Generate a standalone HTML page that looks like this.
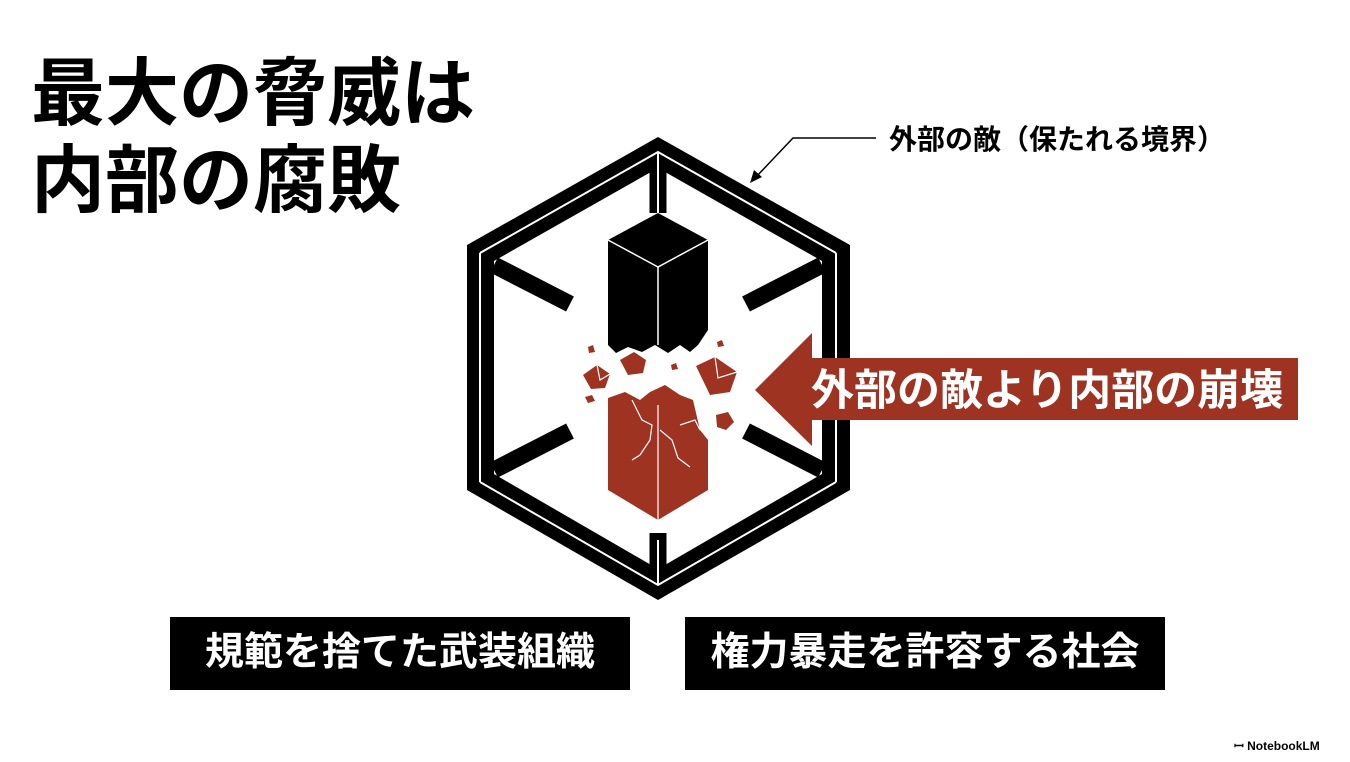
<!DOCTYPE html>
<html><head><meta charset="utf-8"><style>
body{margin:0;width:1350px;height:762px;background:#fff;overflow:hidden;position:relative;font-family:"Liberation Sans","Noto Sans CJK JP",sans-serif}
.t{position:absolute;left:31px;top:50px;font-size:74px;font-weight:700;line-height:87px;color:#000;white-space:nowrap}
.box{position:absolute;background:#000;color:#fff;font-weight:700;font-size:39px;line-height:72px;text-align:center;top:617px;height:73px}
.lbl{position:absolute;left:889px;top:118px;font-size:28px;font-weight:700;white-space:nowrap}
.nb{position:absolute;left:1234px;top:737px;font-size:12px;font-weight:700}
</style></head><body>
<div class="t">最大の脅威は<br>内部の腐敗</div>
<div class="lbl">外部の敵（保たれる境界）</div>
<svg width="1350" height="762" style="position:absolute;left:0;top:0">
<polyline points="876,138 793,138 756,177" fill="none" stroke="#000" stroke-width="1.5"/>
<polygon points="750,183 754,170 762,177" fill="#000"/>
<!-- hex frame -->
<polygon points="658,137 850,245 850,490 658,600 467,490 467,245" fill="#000"/>
<polygon points="658,168 822,261 822,474 658,569 494,474 494,261" fill="#fff"/>
<g fill="none" stroke="#000" stroke-width="17" stroke-linecap="butt">
<line x1="494" y1="265" x2="570" y2="304"/>
<line x1="822" y1="265" x2="746" y2="304"/>
<line x1="494" y1="470" x2="570" y2="431"/>
<line x1="822" y1="470" x2="746" y2="431"/>
<line x1="658" y1="160" x2="658" y2="213"/>
<line x1="658" y1="575" x2="658" y2="533"/>
</g>
<g fill="none" stroke="#fff" stroke-width="2">
<polyline points="480,253 658,152 836,253"/>
<polyline points="480,253 480,482"/>
<polyline points="836,253 836,482"/>
<polyline points="480,482 658,585 836,482"/>
<line x1="658" y1="152" x2="658" y2="213"/>
<line x1="658" y1="585" x2="658" y2="540"/>
</g>
<!-- black column -->
<polygon points="658,213 708,240 708,330 698,345 690,352 680,345 668,353 655,345 642,352 628,347 616,353 608,345 608,240" fill="#000"/>
<polyline points="608,240 658,267 708,240" fill="none" stroke="#fff" stroke-width="1.5"/>
<line x1="658" y1="267" x2="658" y2="345" stroke="#fff" stroke-width="1.5"/>
<!-- red column -->
<g fill="#9e3322">
<polygon points="608,398 625,392 640,400 650,392 665,385 680,395 693,400 700,430 708,440 708,490 658,520 608,490"/>
<polygon points="583,375 597,365 610,374 605,388 591,389"/>
<polygon points="620,360 634,352 646,360 643,373 628,375"/>
<polygon points="696,366 715,357 737,372 730,392 710,395"/>
<polygon points="585,397 592,395 595,401 588,403"/>
<polygon points="588,347 593,345 595,352 589,353"/>
<polygon points="716,415 728,412 734,422 726,430 717,427"/>
<polygon points="671,365 676,363 678,369 672,370"/>
<polygon points="717,342 722,340 724,346 718,347"/>
</g>
<g fill="none" stroke="#fff" stroke-width="1.2">
<line x1="658" y1="405" x2="658" y2="520"/>
<polyline points="632,400 642,420 652,425 650,440 640,455 632,460"/>
<polyline points="660,430 672,440 678,458 690,467"/>
<polyline points="680,425 695,420 700,430"/>
<polyline points="597,365 600,380 610,374"/>
<polyline points="715,357 718,378 737,372"/>
</g>
<!-- arrow -->
<polygon points="755,390 812,333 812,358 1298,358 1298,420 812,420 812,446" fill="#9e3322"/>
<text x="811" y="405" font-size="43" font-weight="700" fill="#fff" font-family="Liberation Sans, Noto Sans CJK JP, sans-serif">外部の敵より内部の崩壊</text>
</svg>
<div class="box" style="left:170px;width:460px">規範を捨てた武装組織</div>
<div class="box" style="left:685px;width:480px">権力暴走を許容する社会</div>
<div class="nb">ꟷ NotebookLM</div>
</body></html>
